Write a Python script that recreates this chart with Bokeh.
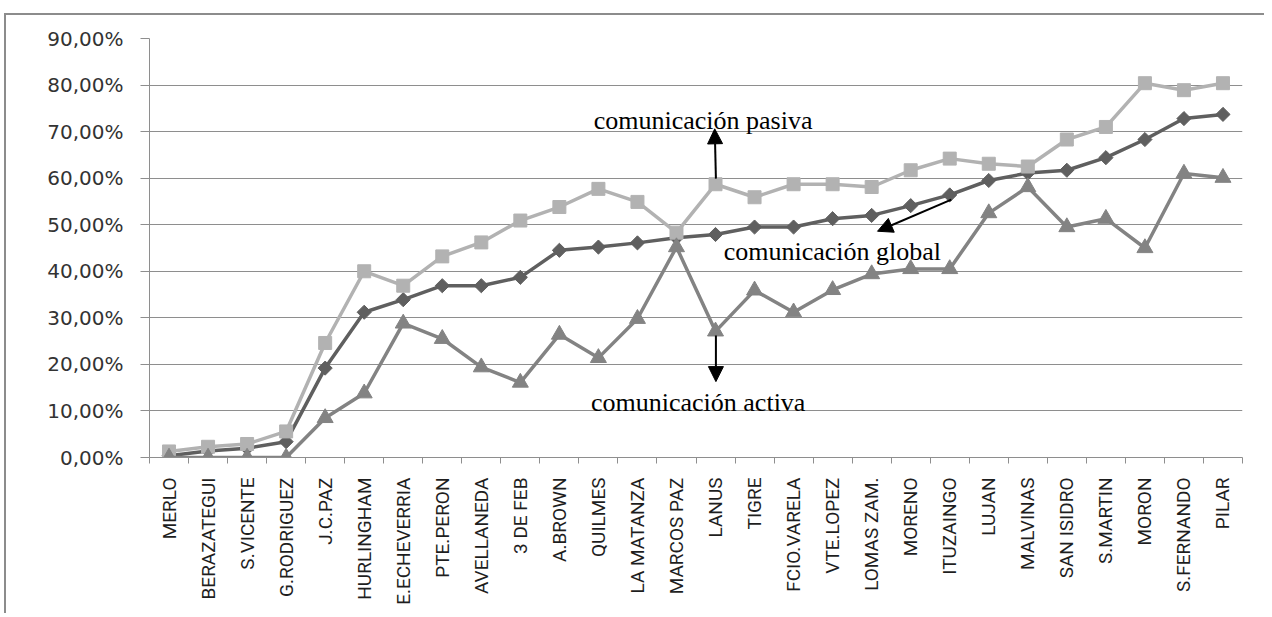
import math
from bokeh.plotting import figure
from bokeh.models import Range1d, FixedTicker, Label, Arrow, NormalHead, ColumnDataSource
from bokeh.embed import file_html
from bokeh.resources import INLINE

# ---------------- data ----------------
municipios = ["MERLO", "BERAZATEGUI", "S.VICENTE", "G.RODRIGUEZ", "J.C.PAZ", "HURLINGHAM",
              "E.ECHEVERRIA", "PTE.PERON", "AVELLANEDA", "3 DE FEB", "A.BROWN", "QUILMES",
              "LA MATANZA", "MARCOS PAZ", "LANUS", "TIGRE", "FCIO.VARELA", "VTE.LOPEZ",
              "LOMAS ZAM.", "MORENO", "ITUZAINGO", "LUJAN", "MALVINAS", "SAN ISIDRO",
              "S.MARTIN", "MORON", "S.FERNANDO", "PILAR"]

pasiva = [1.3, 2.3, 2.9, 5.6, 24.6, 40.0, 36.9, 43.2, 46.2, 50.9, 53.8, 57.7, 54.9, 48.3,
          58.7, 55.9, 58.7, 58.7, 58.1, 61.7, 64.2, 63.1, 62.5, 68.3, 71.0, 80.4, 78.9, 80.4]
global_ = [0.4, 1.4, 2.0, 3.4, 19.2, 31.2, 33.9, 36.9, 36.9, 38.7, 44.5, 45.2, 46.1, 47.2,
           47.9, 49.5, 49.5, 51.3, 52.0, 54.1, 56.4, 59.5, 61.1, 61.7, 64.4, 68.3, 72.8, 73.7]
activa = [0.0, 0.0, 0.0, 0.0, 8.5, 13.8, 28.8, 25.5, 19.4, 16.1, 26.4, 21.4, 29.8, 45.2,
          27.1, 35.9, 31.2, 36.0, 39.4, 40.5, 40.5, 52.5, 58.1, 49.5, 51.3, 45.0, 61.0, 60.1]

y_ticks = [0, 10, 20, 30, 40, 50, 60, 70, 80, 90]
y_tick_labels = ["0,00%", "10,00%", "20,00%", "30,00%", "40,00%", "50,00%",
                 "60,00%", "70,00%", "80,00%", "90,00%"]

# ---------------- figure ----------------
n = len(municipios)
centers = [i + 0.5 for i in range(n)]
boundaries = [float(i) for i in range(n + 1)]

src = ColumnDataSource(dict(x=centers, pasiva=pasiva, glob=global_, activa=activa))

p = figure(width=1260, height=600, output_backend="svg", toolbar_location=None,
           x_range=Range1d(0, n), y_range=Range1d(0, 90),
           min_border_left=143, min_border_right=24, min_border_top=23, min_border_bottom=158)
p.outline_line_color = None
p.background_fill_color = "white"
p.border_fill_color = "white"
p.styles = {"margin-left": "4px", "margin-top": "13px",
            "border-left": "2px solid #8c8c8c", "border-top": "2px solid #8c8c8c"}

GRID = "#8e8e8e"
p.xgrid.visible = False
p.ygrid.grid_line_color = GRID
p.ygrid.grid_line_width = 1

# y axis
p.yaxis.ticker = FixedTicker(ticks=y_ticks)
p.yaxis.major_label_overrides = dict(zip(y_ticks, y_tick_labels))
p.yaxis.axis_line_color = GRID
p.yaxis.major_tick_line_color = GRID
p.yaxis.major_tick_out = 9
p.yaxis.major_tick_in = 0
p.yaxis.minor_tick_line_color = None
p.yaxis.major_label_text_font = "DejaVu Sans"
p.yaxis.major_label_text_font_size = "20px"
p.yaxis.major_label_text_color = "#333333"
p.yaxis.major_label_standoff = 17

# x axis
p.xaxis.ticker = FixedTicker(ticks=centers, minor_ticks=boundaries)
p.xaxis.major_label_overrides = dict(zip(centers, municipios))
p.xaxis.axis_line_color = GRID
p.xaxis.major_tick_line_color = None
p.xaxis.major_tick_out = 0
p.xaxis.major_tick_in = 0
p.xaxis.minor_tick_line_color = GRID
p.xaxis.minor_tick_out = 6
p.xaxis.minor_tick_in = 0
p.xaxis.major_label_orientation = math.pi / 2
p.xaxis.major_label_text_font = "Roboto"
p.xaxis.major_label_text_font_size = "19px"
p.xaxis.major_label_text_color = "#1e1e1e"
p.xaxis.major_label_standoff = 14

# series
C_PAS = "#b2b2b2"
C_GLO = "#5f5f5f"
C_ACT = "#838383"
LW = 3.5

p.line("x", "glob", source=src, line_color=C_GLO, line_width=LW)
p.scatter("x", "glob", source=src, marker="square", angle=math.pi / 4, size=10,
          fill_color=C_GLO, line_color=C_GLO)

p.line("x", "pasiva", source=src, line_color=C_PAS, line_width=LW)
p.scatter("x", "pasiva", source=src, marker="square", size=13,
          fill_color=C_PAS, line_color=C_PAS)

p.line("x", "activa", source=src, line_color=C_ACT, line_width=LW)
p.scatter("x", "activa", source=src, marker="triangle", size=16,
          fill_color=C_ACT, line_color=C_ACT)

# annotations
FONT = "Liberation Serif"
for txt, x, y in [("comunicación pasiva", 11.38, 72.3),
                  ("comunicación global", 14.71, 44.3),
                  ("comunicación activa", 11.31, 11.8)]:
    p.add_layout(Label(x=x, y=y, text=txt, text_font=FONT, text_font_size="26px",
                       text_color="black", text_baseline="alphabetic", text_align="left"))

for (x0, y0, x1, y1) in [(14.51, 59.9, 14.48, 70.6),
                         (14.51, 26.2, 14.51, 16.3),
                         (20.54, 55.4, 18.65, 48.6)]:
    p.add_layout(Arrow(x_start=x0, y_start=y0, x_end=x1, y_end=y1,
                       line_color="black", line_width=2,
                       end=NormalHead(size=15, fill_color="black", line_color="black")))

open("out.html", "w").write(file_html(p, INLINE))
